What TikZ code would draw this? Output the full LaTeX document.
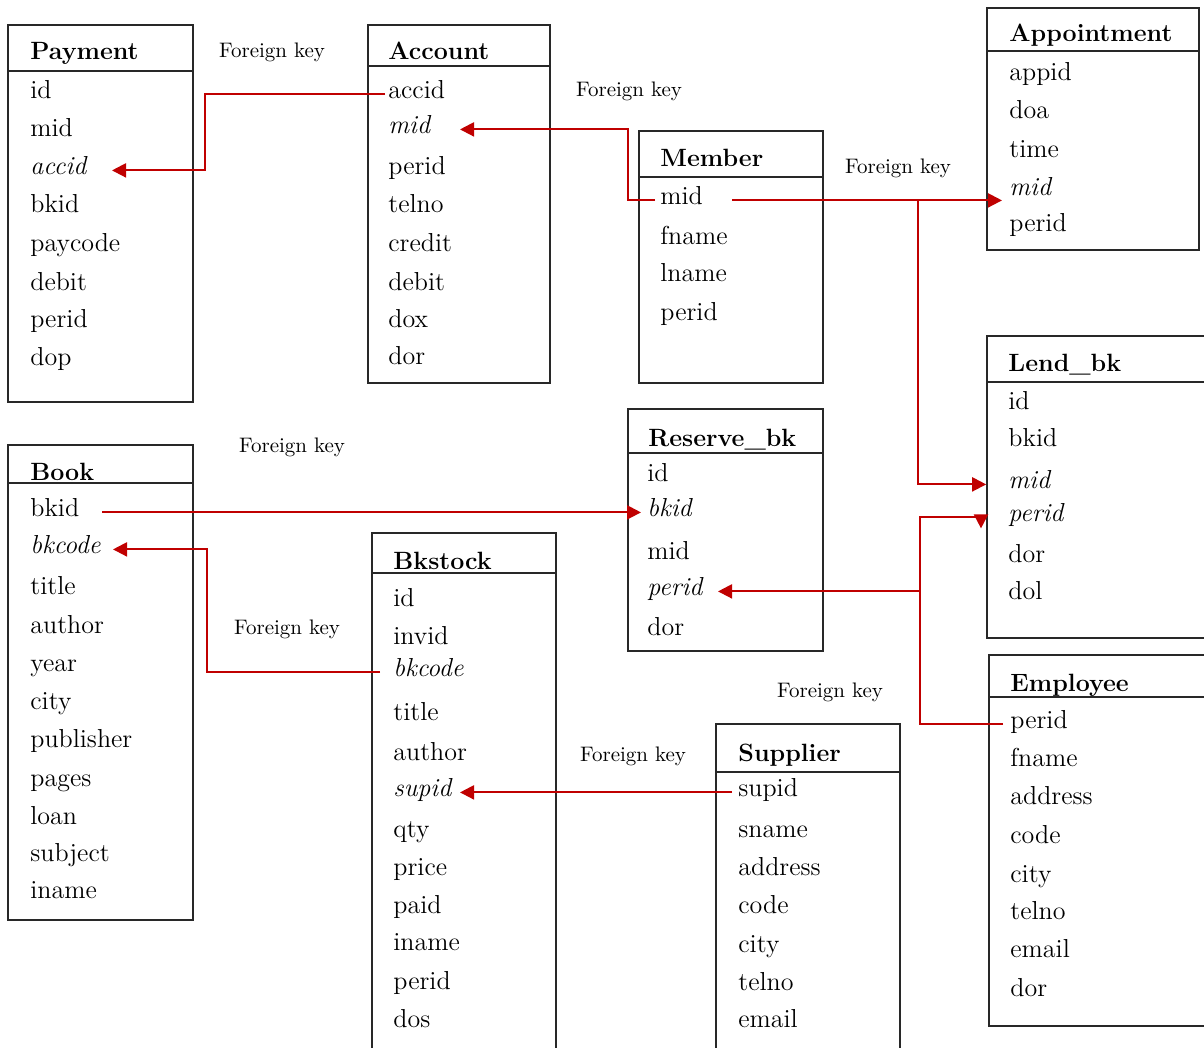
\documentclass[tikz,border=0pt]{standalone}
\usetikzlibrary{calc,fit,arrows.meta}
\definecolor{fkred}{RGB}{192,0,0}
\definecolor{edgegray}{RGB}{40,40,40}
\begin{document}
\begin{tikzpicture}[x=0.5pt,y=-0.5pt,
  tbl/.style={draw=edgegray, line width=0.8pt, inner sep=0pt, rectangle},
  hdrline/.style={draw=edgegray, line width=0.8pt},
  tbltitle/.style={anchor=base west, inner sep=0pt, font=\fontsize{12.5}{14}\selectfont\bfseries},
  fieldrow/.style={anchor=mid west, inner sep=0pt, yshift=-2.2pt, font=\fontsize{13}{15}\selectfont},
  keyrow/.style={fieldrow, font=\fontsize{13}{15}\selectfont\itshape},
  fklabel/.style={inner sep=0pt, font=\fontsize{10.5}{12}\selectfont},
  fk/.style={draw=fkred, line width=1pt, -{Triangle[length=7pt,width=7pt]}},
  fkline/.style={draw=fkred, line width=1pt}
]
\useasboundingbox (0,0) rectangle (1204,1048);

% ---------- Payment ----------
\node[tbl, fit={(8,25) (193,402)}] (payment) {};
\draw[hdrline] ($(payment.north west)+(0,47)$) -- ($(payment.north east)+(0,47)$);
\node[tbltitle] (payment-t) at (30,60) {Payment};
\foreach \n/\s/\t/\y in {pay-id/fieldrow/id/90, pay-mid/fieldrow/mid/128, pay-accid/keyrow/accid/166,
  pay-bkid/fieldrow/bkid/204, pay-paycode/fieldrow/paycode/243, pay-debit/fieldrow/debit/282,
  pay-perid/fieldrow/perid/319, pay-dop/fieldrow/dop/357}
  \node[\s] (\n) at (30,\y) {\t};

% ---------- Account ----------
\node[tbl, fit={(368,25) (550,383)}] (account) {};
\draw[hdrline] ($(account.north west)+(0,42)$) -- ($(account.north east)+(0,42)$);
\node[tbltitle] (account-t) at (388,60) {Account};
\foreach \n/\s/\t/\y in {acc-accid/fieldrow/accid/90, acc-mid/keyrow/mid/125, acc-perid/fieldrow/perid/166,
  acc-telno/fieldrow/telno/204, acc-credit/fieldrow/credit/243, acc-debit/fieldrow/debit/282,
  acc-dox/fieldrow/dox/319, acc-dor/fieldrow/dor/356}
  \node[\s] (\n) at (388,\y) {\t};

% ---------- Member ----------
\node[tbl, fit={(639,131) (823,383)}] (member) {};
\draw[hdrline] ($(member.north west)+(0,47)$) -- ($(member.north east)+(0,47)$);
\node[tbltitle] (member-t) at (660,167) {Member};
\foreach \n/\s/\t/\y in {mem-mid/fieldrow/mid/196, mem-fname/fieldrow/fname/236,
  mem-lname/fieldrow/lname/273, mem-perid/fieldrow/perid/312}
  \node[\s] (\n) at (660,\y) {\t};

% ---------- Appointment ----------
\node[tbl, fit={(987,8) (1199,250)}] (appointment) {};
\draw[hdrline] ($(appointment.north west)+(0,44)$) -- ($(appointment.north east)+(0,44)$);
\node[tbltitle] (appointment-t) at (1009,42) {Appointment};
\foreach \n/\s/\t/\y in {app-appid/fieldrow/appid/72, app-doa/fieldrow/doa/110, app-time/fieldrow/time/149,
  app-mid/keyrow/mid/187, app-perid/fieldrow/perid/223}
  \node[\s] (\n) at (1009,\y) {\t};

% ---------- Lend_bk ----------
\node[tbl, fit={(987,336) (1214,638)}] (lend) {};
\draw[hdrline] ($(lend.north west)+(0,47)$) -- ($(lend.north east)+(0,47)$);
\node[tbltitle] (lend-t) at (1008,371) {Lend\_bk};
\foreach \n/\s/\t/\y in {lend-id/fieldrow/id/401, lend-bkid/fieldrow/bkid/438, lend-mid/keyrow/mid/480,
  lend-perid/keyrow/perid/513, lend-dor/fieldrow/dor/554, lend-dol/fieldrow/dol/591}
  \node[\s] (\n) at (1008,\y) {\t};

% ---------- Reserve_bk ----------
\node[tbl, fit={(628,409) (823,651)}] (reserve) {};
\draw[hdrline] ($(reserve.north west)+(0,45)$) -- ($(reserve.north east)+(0,45)$);
\node[tbltitle] (reserve-t) at (648,446) {Reserve\_bk};
\foreach \n/\s/\t/\y in {res-id/fieldrow/id/473, res-bkid/keyrow/bkid/508, res-mid/fieldrow/mid/551,
  res-perid/keyrow/perid/587, res-dor/fieldrow/dor/627}
  \node[\s] (\n) at (647,\y) {\t};

% ---------- Book ----------
\node[tbl, fit={(8,445) (193,920)}] (book) {};
\draw[hdrline] ($(book.north west)+(0,39)$) -- ($(book.north east)+(0,39)$);
\node[tbltitle] (book-t) at (30,480) {Book};
\foreach \n/\s/\t/\y in {book-bkid/fieldrow/bkid/508, book-bkcode/keyrow/bkcode/545, book-title/fieldrow/title/586,
  book-author/fieldrow/author/625, book-year/fieldrow/year/663, book-city/fieldrow/city/701,
  book-publisher/fieldrow/publisher/739, book-pages/fieldrow/pages/778, book-loan/fieldrow/loan/816,
  book-subject/fieldrow/subject/853, book-iname/fieldrow/iname/890}
  \node[\s] (\n) at (30,\y) {\t};

% ---------- Bkstock ----------
\node[tbl, fit={(372,533) (556,1060)}] (bkstock) {};
\draw[hdrline] ($(bkstock.north west)+(0,41)$) -- ($(bkstock.north east)+(0,41)$);
\node[tbltitle] (bkstock-t) at (393,569) {Bkstock};
\foreach \n/\s/\t/\y in {bks-id/fieldrow/id/598, bks-invid/fieldrow/invid/636, bks-bkcode/keyrow/bkcode/668,
  bks-title/fieldrow/title/712, bks-author/fieldrow/author/752, bks-supid/keyrow/supid/788,
  bks-qty/fieldrow/qty/829, bks-price/fieldrow/price/867, bks-paid/fieldrow/paid/905,
  bks-iname/fieldrow/iname/942, bks-perid/fieldrow/perid/981, bks-dos/fieldrow/dos/1019}
  \node[\s] (\n) at (393,\y) {\t};

% ---------- Supplier ----------
\node[tbl, fit={(716,724) (900,1060)}] (supplier) {};
\draw[hdrline] ($(supplier.north west)+(0,49)$) -- ($(supplier.north east)+(0,49)$);
\node[tbltitle] (supplier-t) at (738,761) {Supplier};
\foreach \n/\s/\t/\y in {sup-supid/fieldrow/supid/788, sup-sname/fieldrow/sname/829, sup-address/fieldrow/address/867,
  sup-code/fieldrow/code/905, sup-city/fieldrow/city/944, sup-telno/fieldrow/telno/982, sup-email/fieldrow/email/1019}
  \node[\s] (\n) at (738,\y) {\t};

% ---------- Employee ----------
\node[tbl, fit={(989,655) (1214,1026)}] (employee) {};
\draw[hdrline] ($(employee.north west)+(0,43)$) -- ($(employee.north east)+(0,43)$);
\node[tbltitle] (employee-t) at (1010,691) {Employee};
\foreach \n/\s/\t/\y in {emp-perid/fieldrow/perid/720, emp-fname/fieldrow/fname/758, emp-address/fieldrow/address/796,
  emp-code/fieldrow/code/835, emp-city/fieldrow/city/874, emp-telno/fieldrow/telno/911,
  emp-email/fieldrow/email/949, emp-dor/fieldrow/dor/988}
  \node[\s] (\n) at (1010,\y) {\t};

% ---------- relationship labels ----------
\node[fklabel] (fk1) at (272,52) {Foreign key};
\node[fklabel] (fk2) at (629,91) {Foreign key};
\node[fklabel] (fk3) at (898,168) {Foreign key};
\node[fklabel] (fk4) at (292,447) {Foreign key};
\node[fklabel] (fk5) at (287,629) {Foreign key};
\node[fklabel] (fk6) at (830,692) {Foreign key};
\node[fklabel] (fk7) at (633,756) {Foreign key};

% ---------- foreign key connectors ----------
% bend columns and arrow tip positions
\coordinate (b1) at (205,130);
\coordinate (b2) at (628,160);
\coordinate (j1) at (918,0);
\coordinate (j2) at (920,0);
\coordinate (k5) at (981,0);
\coordinate (b7) at (207,600);
\coordinate (t3) at ($(app-mid.mid west)+(-7,0)$);
\coordinate (t6) at ($(res-bkid.mid west)+(-6,0)$);
\coordinate (t8) at ($(bks-supid.mid west)+(67,0)$);

% Account.accid -> Payment.accid
\draw[fk] ($(acc-accid.mid west)+(-3,0)$) -| (b1) |- ($(pay-accid.mid west)+(82,0)$);
% Member.mid -> Account.mid
\draw[fk] ($(mem-mid.mid west)+(-5,0)$) -| (b2) |- ($(acc-mid.mid west)+(72,0)$);
% Member.mid -> Appointment.mid
\draw[fk] ($(mem-mid.mid west)+(72,0)$) -- (mem-mid.mid -| t3);
% Member.mid -> Lend_bk.mid
\draw[fk] (mem-mid.mid -| j1) |- (lend-mid.mid -| lend.west);
% Employee.perid -> Reserve_bk.perid
\draw[fk] ($(emp-perid.mid west)+(-7,0)$) -| (j2 |- res-perid.mid) -- ($(res-perid.mid west)+(71,0)$);
% Employee.perid -> Lend_bk.perid
\draw[fk] (j2 |- res-perid.mid) |- (lend-perid.mid -| k5) -- ++(0,11);
% Book.bkid -> Reserve_bk.bkid
\draw[fk] ($(book-bkid.mid west)+(72,0)$) -- (book-bkid.mid -| t6);
% Bkstock.bkcode -> Book.bkcode
\draw[fk] ($(bks-bkcode.mid west)+(-13,0)$) -| (b7) |- ($(book-bkcode.mid west)+(83,0)$);
% Supplier.supid -> Bkstock.supid
\draw[fk] ($(sup-supid.mid west)+(-6,0)$) -- (sup-supid.mid -| t8);

\end{tikzpicture}
\end{document}
